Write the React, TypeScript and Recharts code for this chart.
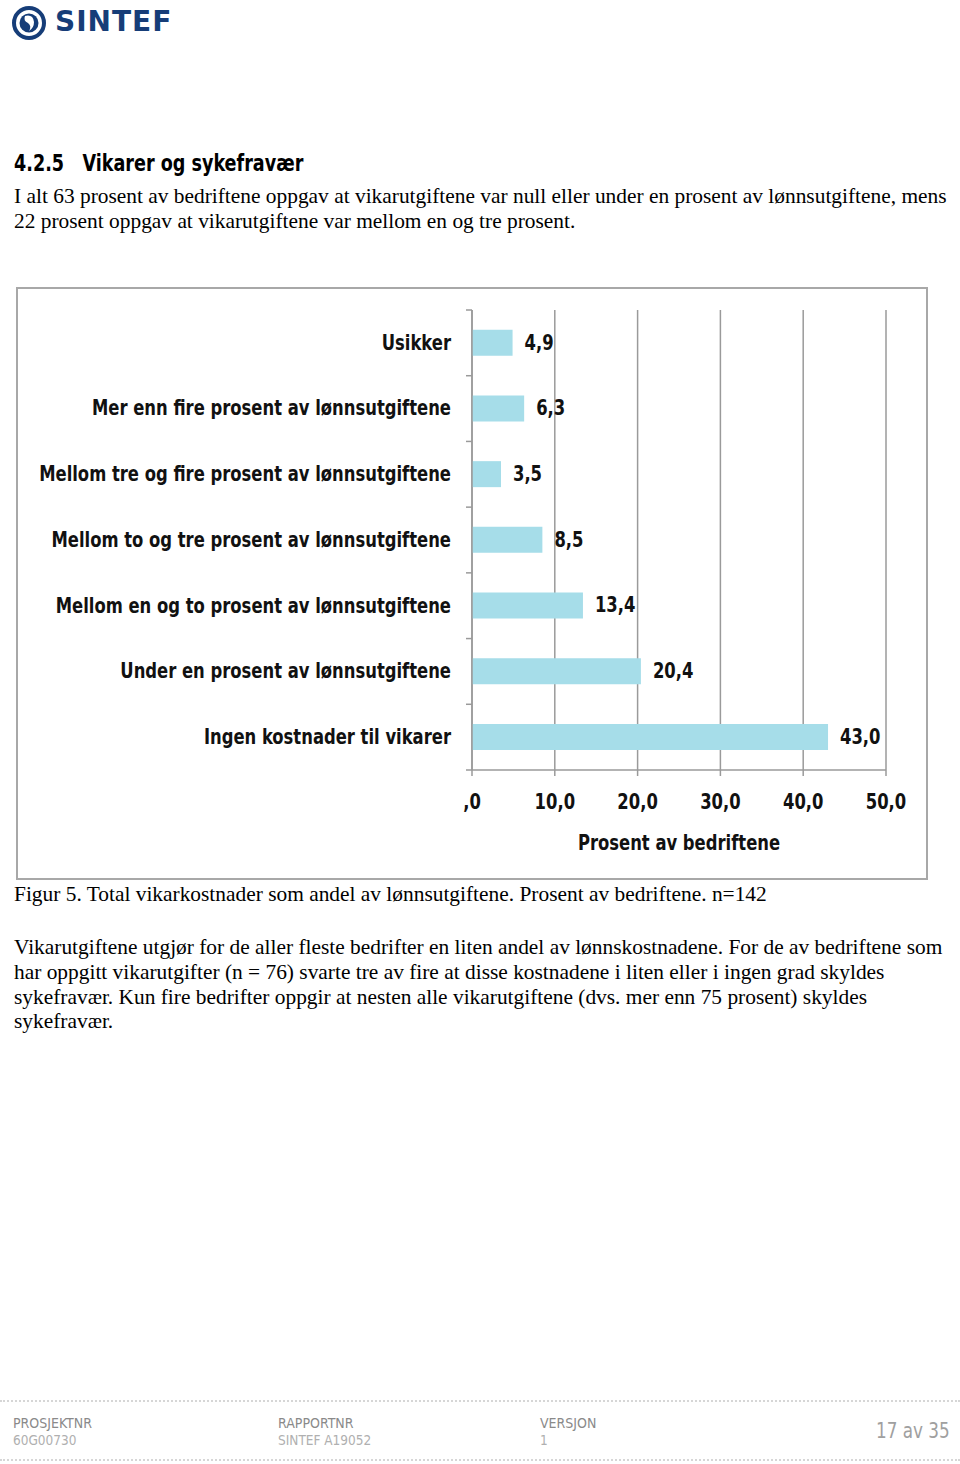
import React from "react";
import { Bar, BarChart, CartesianGrid, LabelList, XAxis, YAxis } from "recharts";

const categories = [
  "Usikker",
  "Mer enn fire prosent av lønnsutgiftene",
  "Mellom tre og fire prosent av lønnsutgiftene",
  "Mellom to og tre prosent av lønnsutgiftene",
  "Mellom en og to prosent av lønnsutgiftene",
  "Under en prosent av lønnsutgiftene",
  "Ingen kostnader til vikarer",
];
const values = [4.9, 6.3, 3.5, 8.5, 13.4, 20.4, 43.0];
const xTicks = [0, 10, 20, 30, 40, 50];
const xTitle = "Prosent av bedriftene";

const data = categories.map((name, i) => ({ name, value: values[i] }));

const CHART_W = 908;
const CHART_H = 589;
const MARGIN = { top: 21, right: 40, bottom: 28, left: 0 };
const X_AXIS_H = 80;
const PLOT_H = CHART_H - MARGIN.top - MARGIN.bottom - X_AXIS_H;

const GRID = "#9a9a9a";
const BAR = "#a6dde9";
const INK = "#111";
const CHART_FONT = "'DejaVu Sans Condensed', 'DejaVu Sans', sans-serif";
const CHART_SIZE = 20.5;
const SQUEEZE = 0.89;

const fmt = (v: number) => (v === 0 ? ",0" : v.toFixed(1).replace(".", ","));

// narrow DIN-like text: condensed face squeezed a bit more
function Narrow({ x, y, anchor, children }: { x: number; y: number; anchor: "start" | "middle" | "end"; children: any }) {
  return (
    <g transform={`translate(${x},${y}) scale(${SQUEEZE},1)`}>
      <text
        x={0}
        y={0}
        textAnchor={anchor}
        dominantBaseline="central"
        fill={INK}
        fontSize={CHART_SIZE}
        fontWeight="bold"
        fontFamily={CHART_FONT}
      >
        {children}
      </text>
    </g>
  );
}

function CategoryTick(props: any) {
  const { x, y, payload, index } = props;
  const band = PLOT_H / categories.length;
  return (
    <g>
      <line x1={x - 6} x2={x} y1={y - band / 2} y2={y - band / 2} stroke={GRID} strokeWidth={1.5} />
      {index === categories.length - 1 && (
        <line x1={x - 6} x2={x} y1={y + band / 2} y2={y + band / 2} stroke={GRID} strokeWidth={1.5} />
      )}
      <Narrow x={x - 21} y={y} anchor="end">
        {payload.value}
      </Narrow>
    </g>
  );
}

function ValueTick(props: any) {
  const { x, y, payload } = props;
  return (
    <Narrow x={x} y={y + 24} anchor="middle">
      {fmt(payload.value)}
    </Narrow>
  );
}

function BarValue(props: any) {
  const { x, y, width, height, value } = props;
  return (
    <Narrow x={x + width + 12} y={y + height / 2} anchor="start">
      {fmt(Number(value))}
    </Narrow>
  );
}

function AxisTitle(props: any) {
  const { viewBox } = props;
  return (
    <Narrow x={viewBox.x + viewBox.width / 2} y={viewBox.y + 73} anchor="middle">
      {xTitle}
    </Narrow>
  );
}

function Logo() {
  return (
    <svg width={50} height={46} style={{ position: "absolute", left: 8, top: 0 }}>
      <circle cx={21} cy={23} r={15} fill="none" stroke="#163d78" strokeWidth={4} />
      <circle cx={21} cy={23} r={9.5} fill="#163d78" />
      <path d="M17 16 q8 -2 9 6 q0 6 -5 9 q3 -5 -1 -8 q-5 -2 -3 -7 z" fill="#fff" />
    </svg>
  );
}

const serif: React.CSSProperties = {
  position: "absolute",
  left: 14,
  fontFamily: "'Liberation Serif', 'Times New Roman', serif",
  fontSize: 21.4,
  lineHeight: "25px",
  color: "#000",
  whiteSpace: "nowrap",
};

const din: React.CSSProperties = {
  position: "absolute",
  fontFamily: CHART_FONT,
  whiteSpace: "nowrap",
};

const footLabel: React.CSSProperties = { ...din, top: 1414, fontSize: 14, lineHeight: "18px", color: "#8a8a8a" };
const footValue: React.CSSProperties = { ...din, top: 1431, fontSize: 13.5, lineHeight: "18px", color: "#b0b0b0" };

export default function App() {
  return (
    <div style={{ position: "absolute", left: 0, top: 0, width: 960, height: 1464, background: "#fff", overflow: "hidden" }}>
      <Logo />
      <div
        style={{
          position: "absolute",
          left: 55,
          top: 5,
          fontFamily: "'DejaVu Sans', sans-serif",
          fontWeight: "bold",
          fontSize: 28,
          lineHeight: "34px",
          color: "#163d78",
          letterSpacing: 1,
        }}
      >
        SINTEF
      </div>

      <div
        style={{
          ...din,
          left: 14,
          top: 148,
          fontSize: 23,
          lineHeight: "30px",
          fontWeight: "bold",
          color: "#000",
          transform: "scaleX(0.85)",
          transformOrigin: "left center",
        }}
      >
        4.2.5{"\u00a0\u00a0\u00a0"}Vikarer og sykefravær
      </div>

      <div style={{ ...serif, top: 184 }}>
        I alt 63 prosent av bedriftene oppgav at vikarutgiftene var null eller under en prosent av lønnsutgiftene, mens
        <br />
        22 prosent oppgav at vikarutgiftene var mellom en og tre prosent.
      </div>

      <div
        style={{
          position: "absolute",
          left: 16,
          top: 287,
          width: CHART_W,
          height: CHART_H,
          border: "2px solid #a8a8a8",
        }}
      >
        <BarChart width={CHART_W} height={CHART_H} data={data} layout="vertical" margin={MARGIN} barCategoryGap="30%">
          <CartesianGrid horizontal={false} stroke={GRID} strokeWidth={1.5} />
          <XAxis
            type="number"
            domain={[0, 50]}
            ticks={xTicks}
            height={X_AXIS_H}
            stroke={GRID}
            strokeWidth={1.5}
            tick={<ValueTick />}
            label={<AxisTitle />}
          />
          <YAxis
            type="category"
            dataKey="name"
            width={454}
            tickSize={0}
            tickMargin={0}
            stroke={GRID}
            strokeWidth={1.5}
            tick={<CategoryTick />}
            interval={0}
          />
          <Bar dataKey="value" fill={BAR} isAnimationActive={false}>
            <LabelList dataKey="value" content={<BarValue />} />
          </Bar>
        </BarChart>
      </div>

      <div style={{ ...serif, top: 882 }}>
        Figur 5. Total vikarkostnader som andel av lønnsutgiftene. Prosent av bedriftene. n=142
      </div>

      <div style={{ ...serif, top: 935, lineHeight: "24.8px" }}>
        Vikarutgiftene utgjør for de aller fleste bedrifter en liten andel av lønnskostnadene. For de av bedriftene som
        <br />
        har oppgitt vikarutgifter (n = 76) svarte tre av fire at disse kostnadene i liten eller i ingen grad skyldes
        <br />
        sykefravær. Kun fire bedrifter oppgir at nesten alle vikarutgiftene (dvs. mer enn 75 prosent) skyldes
        <br />
        sykefravær.
      </div>

      <div style={{ position: "absolute", left: 0, top: 1400, width: 960, borderTop: "2px dotted #d6d6d6" }} />
      <div style={{ position: "absolute", left: 0, top: 1459, width: 960, borderTop: "2px dotted #d6d6d6" }} />

      <div style={{ ...footLabel, left: 13 }}>PROSJEKTNR</div>
      <div style={{ ...footValue, left: 13 }}>60G00730</div>
      <div style={{ ...footLabel, left: 278 }}>RAPPORTNR</div>
      <div style={{ ...footValue, left: 278 }}>SINTEF A19052</div>
      <div style={{ ...footLabel, left: 540 }}>VERSJON</div>
      <div style={{ ...footValue, left: 540 }}>1</div>
      <div
        style={{
          ...din,
          left: 876,
          top: 1417,
          fontSize: 22,
          lineHeight: "28px",
          color: "#a0a0a0",
          transform: "scaleX(0.85)",
          transformOrigin: "left center",
        }}
      >
        17 av 35
      </div>
    </div>
  );
}
